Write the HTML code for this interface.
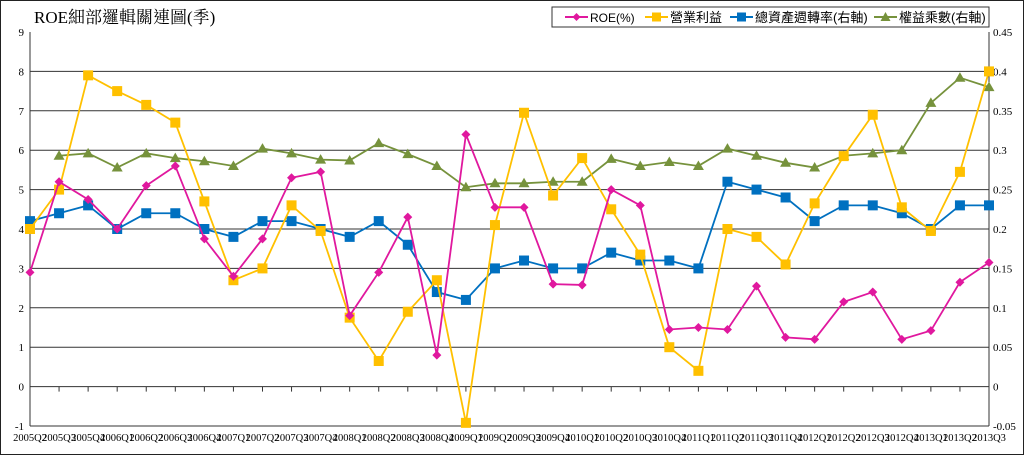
<!DOCTYPE html>
<html><head><meta charset="utf-8"><style>
body{margin:0;background:#fff;}
svg{display:block;font-family:"Liberation Serif","Noto Serif CJK SC",serif;}
</style></head><body>
<svg id="c" width="1024" height="455" viewBox="0 0 1024 455">
<rect x="0.5" y="0.5" width="1023" height="454" fill="#fff" stroke="#222"/>
<text x="34" y="23" font-size="17" fill="#000" style="font-family:'Liberation Serif','Noto Serif CJK TC',serif">ROE細部邏輯關連圖(季)</text>
<g>
<rect x="552" y="7" width="437" height="20" fill="#fff" stroke="#333"/>
<g><line x1="565" y1="17" x2="588" y2="17" stroke="#e0189e" stroke-width="2"/><path d="M576.5 13 L580.5 17 L576.5 21 L572.5 17Z" fill="#e0189e"/><text x="590" y="22" font-size="12" style="font-family:'Liberation Sans',sans-serif">ROE(%)</text></g>
<g><line x1="645" y1="17" x2="668" y2="17" stroke="#ffc000" stroke-width="2"/><rect x="652" y="12.5" width="9" height="9" fill="#ffc000"/><text x="670" y="22" font-size="13" style="font-family:'Liberation Sans','Noto Sans CJK TC',sans-serif">營業利益</text></g>
<g><line x1="730" y1="17" x2="753" y2="17" stroke="#0070c0" stroke-width="2"/><rect x="737" y="12.5" width="9" height="9" fill="#0070c0"/><text x="755" y="22" font-size="13" style="font-family:'Liberation Sans','Noto Sans CJK TC',sans-serif">總資產週轉率(右軸)</text></g>
<g><line x1="874" y1="17" x2="897" y2="17" stroke="#76923c" stroke-width="2"/><path d="M885.5 12 L890.5 21 L880.5 21Z" fill="#76923c"/><text x="899" y="22" font-size="13" style="font-family:'Liberation Sans','Noto Sans CJK TC',sans-serif">權益乘數(右軸)</text></g>
</g>
<g id="axes"></g>
<g id="series"></g>
</svg>
<script>
const categories=["2005Q2","2005Q3","2005Q4","2006Q1","2006Q2","2006Q3","2006Q4","2007Q1","2007Q2","2007Q3","2007Q4","2008Q1","2008Q2","2008Q3","2008Q4","2009Q1","2009Q2","2009Q3","2009Q4","2010Q1","2010Q2","2010Q3","2010Q4","2011Q1","2011Q2","2011Q3","2011Q4","2012Q1","2012Q2","2012Q3","2012Q4","2013Q1","2013Q2","2013Q3"];
const roe=[2.9,5.2,4.75,4.0,5.1,5.6,3.75,2.8,3.75,5.3,5.45,1.8,2.9,4.3,0.8,6.4,4.55,4.55,2.6,2.58,5.0,4.6,1.45,1.5,1.45,2.55,1.25,1.2,2.15,2.4,1.2,1.42,2.65,3.15];
const margin=[4.0,5.0,7.9,7.5,7.15,6.7,4.7,2.7,3.0,4.6,3.95,1.75,0.65,1.9,2.7,-0.92,4.1,6.95,4.85,5.8,4.5,3.35,1.0,0.4,4.0,3.8,3.1,4.65,5.85,6.9,4.55,3.95,5.45,8.0];
const turnover=[0.21,0.22,0.23,0.2,0.22,0.22,0.2,0.19,0.21,0.21,0.2,0.19,0.21,0.18,0.12,0.11,0.15,0.16,0.15,0.15,0.17,0.16,0.16,0.15,0.26,0.25,0.24,0.21,0.23,0.23,0.22,0.2,0.23,0.23];
const multiplier=[null,0.293,0.296,0.278,0.296,0.29,0.286,0.28,0.302,0.296,0.288,0.287,0.309,0.295,0.28,0.253,0.258,0.258,0.26,0.26,0.289,0.28,0.285,0.28,0.302,0.293,0.284,0.278,0.293,0.296,0.3,0.36,0.392,0.38];
const leftTicks=[-1,0,1,2,3,4,5,6,7,8,9];
const rightTicks=["-0.05","0","0.05","0.1","0.15","0.2","0.25","0.3","0.35","0.4","0.45"];

const NS="http://www.w3.org/2000/svg";
const X0=30,X1=989,Y9=32,YM1=426;
const xS=i=>X0+i*(X1-X0)/(categories.length-1);
const yL=v=>YM1-(v+1)*(YM1-Y9)/10;
const yR=v=>yL(v*20);
function mk(t,a,p){const e=document.createElementNS(NS,t);for(const k in a)e.setAttribute(k,a[k]);p.appendChild(e);return e;}
const ax=document.getElementById('axes');
leftTicks.forEach((v,i)=>{
  if(v>-1&&v<9){const g=mk('line',{x1:X0,x2:X1,y1:yL(v),y2:yL(v),stroke:'#333','stroke-width':1},ax);
  
  }
  const t=mk('text',{x:X0-6,y:yL(v)+4,'font-size':11,'text-anchor':'end'},ax);t.textContent=v;
  
  
  const r=mk('text',{x:X1+4,y:yL(v)+4,'font-size':11},ax);r.textContent=rightTicks[i];
  
  
});
let a1=mk('line',{x1:X0,x2:X0,y1:Y9,y2:YM1,stroke:'#333'},ax);


let a2=mk('line',{x1:X1,x2:X1,y1:Y9,y2:YM1,stroke:'#333'},ax);


let a3=mk('line',{x1:X0,x2:X1,y1:YM1,y2:YM1,stroke:'#333'},ax);


categories.forEach((c,i)=>{
  const tk=mk('line',{x1:xS(i),x2:xS(i),y1:yL(0),y2:yL(0)+5,stroke:'#333'},ax);
  
  
  const t=mk('text',{x:xS(i),y:441,'font-size':10.5,'text-anchor':'middle'},ax);t.textContent=c;
  
  
});
const sg=document.getElementById('series');
function series(data,yf,color,marker,name){
  const g=mk('g',{},sg);
  
  
  let d='';data.forEach((v,i)=>{if(v==null)return;d+=(d?'L':'M')+xS(i)+' '+yf(v);});
  mk('path',{d:d,fill:'none',stroke:color,'stroke-width':1.8},g);
  data.forEach((v,i)=>{if(v==null)return;const x=xS(i),y=yf(v);let m;
    if(marker==='sq')m=mk('rect',{x:x-5,y:y-5,width:10,height:10,fill:color},g);
    else if(marker==='dia')m=mk('path',{d:`M${x} ${y-4.5}L${x+4.5} ${y}L${x} ${y+4.5}L${x-4.5} ${y}Z`,fill:color},g);
    else m=mk('path',{d:`M${x} ${y-5.5}L${x+5.5} ${y+4}L${x-5.5} ${y+4}Z`,fill:color},g);
    
    
  });
}
series(multiplier,yR,'#76923c','tri','equity-multiplier-series');
series(turnover,yR,'#0070c0','sq','asset-turnover-series');
series(margin,yL,'#ffc000','sq','operating-margin-series');
series(roe,yL,'#e0189e','dia','roe-series');
</script>
</body></html>
